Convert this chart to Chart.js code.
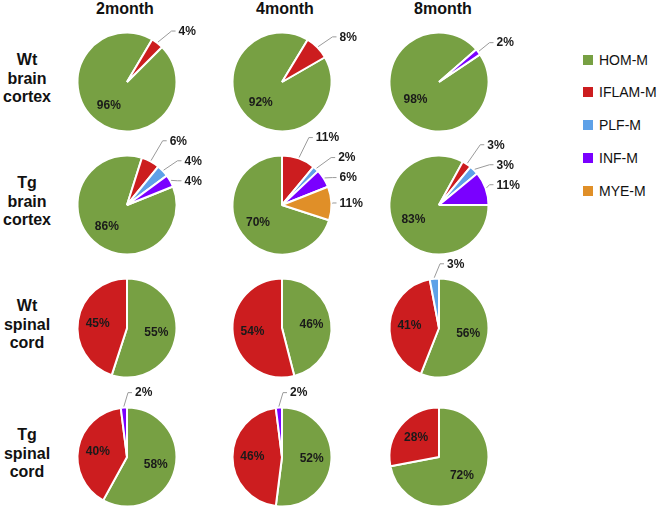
<!DOCTYPE html>
<html><head><meta charset="utf-8">
<script src="https://cdn.jsdelivr.net/npm/chart.js@4/dist/chart.umd.min.js"></script>
<style>
html,body{margin:0;padding:0;background:#fff;}
body{width:660px;height:509px;position:relative;overflow:hidden;font-family:"Liberation Sans",Arial,sans-serif;color:#111;}
.hdr{position:absolute;width:100px;text-align:center;font-weight:bold;font-size:16px;line-height:18px;top:0;}
.rowlab{position:absolute;width:60px;text-align:center;font-weight:bold;font-size:16px;line-height:18.5px;}
.cell{position:absolute;}
.sq{position:absolute;width:10px;height:10px;}
.lt{position:absolute;font-size:14px;line-height:16px;color:#111;white-space:nowrap;}
</style>
</head>
<body>
<script>
// ---- data ----
const categories = ['HOM-M','IFLAM-M','PLF-M','INF-M','MYE-M'];
const months = ['2month','4month','8month'];
const groupLabels = [['Wt','brain','cortex'],['Tg','brain','cortex'],['Wt','spinal','cord'],['Tg','spinal','cord']];
// values per month: [HOM-M, IFLAM-M, PLF-M, INF-M, MYE-M] (%)
const wtBrainCortex = [[96,4,0,0,0],[92,8,0,0,0],[98,0,0,2,0]];
const tgBrainCortex = [[86,6,4,4,0],[70,11,2,6,11],[83,3,3,11,0]];
const wtSpinalCord  = [[55,45,0,0,0],[46,54,0,0,0],[56,41,3,0,0]];
const tgSpinalCord  = [[58,40,0,2,0],[52,46,0,2,0],[72,28,0,0,0]];
const groups = [wtBrainCortex, tgBrainCortex, wtSpinalCord, tgSpinalCord];

// ---- layout / style ----
const colors = ['#77a043','#cc1d1f','#5ea1e8','#7a00ff','#e08f28'];
const colX = [127,282,439];
const rowY = [82,205,328,457];
const startAngles = [[45,60,56],[68,108,90],[0,0,0],[0,0,0]];
const headerX = [125,285,443];
const CW = 220, CH = 150, SIDE = 101;

const labelPlugin = {
  id:'pctLabels',
  afterDatasetsDraw(chart){
    const ctx = chart.ctx;
    const meta = chart.getDatasetMeta(0);
    const vals = chart.data.datasets[0].data;
    const outs = [];
    ctx.save();
    ctx.font = 'bold 12px "Liberation Sans", Arial, sans-serif';
    ctx.fillStyle = '#1a1a1a';
    meta.data.forEach((arc,i)=>{
      const v = vals[i];
      if(!v) return;
      const p = arc.getProps(['x','y','startAngle','endAngle','outerRadius'], true);
      const mid = (p.startAngle+p.endAngle)/2;
      const dx = Math.cos(mid), dy = Math.sin(mid);
      const r = p.outerRadius;
      if (v >= 15) {
        ctx.textAlign='center'; ctx.textBaseline='middle';
        ctx.fillText(v+'%', p.x + dx*r*0.6, p.y + dy*r*0.6);
      } else {
        outs.push({v, cx:p.x, cy:p.y, r, dx, dy, y: p.y + dy*(r+15)});
      }
    });
    outs.sort((a,b)=>a.y-b.y);
    const S = 20;
    for (let it=0; it<200; it++){
      let moved=false;
      for (let k=0;k<outs.length-1;k++){
        const d = outs[k+1].y - outs[k].y;
        if (d < S - 0.01){ const s=(S-d)/2; outs[k].y-=s; outs[k+1].y+=s; moved=true; }
      }
      if(!moved) break;
    }
    outs.forEach(o=>{
      const tx = o.cx + Math.min(o.r+8, Math.max(8, (o.r+15)*o.dx + 12));
      ctx.strokeStyle = '#9a9a9a'; ctx.lineWidth = 1;
      ctx.beginPath();
      ctx.moveTo(o.cx + o.dx*(o.r+1), o.cy + o.dy*(o.r+1));
      ctx.lineTo(tx-7, o.y);
      ctx.lineTo(tx-3, o.y);
      ctx.stroke();
      ctx.textAlign='left'; ctx.textBaseline='middle';
      ctx.fillText(o.v+'%', tx, o.y+0.5);
    });
    ctx.restore();
  }
};

// headers
months.forEach((m,i)=>{
  const d=document.createElement('div'); d.className='hdr'; d.textContent=m;
  d.style.left=(headerX[i]-50)+'px'; document.body.appendChild(d);
});
// row labels
groupLabels.forEach((lines,r)=>{
  const d=document.createElement('div'); d.className='rowlab';
  d.innerHTML=lines.join('<br>');
  d.style.left='-3px';
  d.style.top=(rowY[r]-3-18.5*1.5)+'px';
  document.body.appendChild(d);
});
// legend
const legY=[60,92,125,158,191];
categories.forEach((c,i)=>{
  const s=document.createElement('div'); s.className='sq';
  s.style.left='583px'; s.style.top=(legY[i]-5)+'px'; s.style.background=colors[i];
  document.body.appendChild(s);
  const t=document.createElement('div'); t.className='lt'; t.textContent=c;
  t.style.left='599px'; t.style.top=(legY[i]-8)+'px';
  document.body.appendChild(t);
});

// pies
const padX=(CW-SIDE)/2, padY=(CH-SIDE)/2;
groups.forEach((g,r)=>{
  g.forEach((vals,c)=>{
    const cv=document.createElement('canvas');
    cv.width=CW; cv.height=CH; cv.className='cell';
    cv.style.left=(colX[c]-CW/2)+'px'; cv.style.top=(rowY[r]-CH/2)+'px';
    cv.style.width=CW+'px'; cv.style.height=CH+'px';
    document.body.appendChild(cv);
    new Chart(cv,{
      type:'pie',
      data:{labels:categories,datasets:[{data:vals,backgroundColor:colors,borderColor:'#ffffff',borderWidth:2,hoverOffset:0,offset:0}]},
      options:{
        responsive:false, animation:false, devicePixelRatio:1,
        rotation:startAngles[r][c],
        layout:{padding:{left:padX,right:padX,top:padY,bottom:padY}},
        plugins:{legend:{display:false},tooltip:{enabled:false}},
        events:[]
      },
      plugins:[labelPlugin]
    });
  });
});
</script>
</body></html>
